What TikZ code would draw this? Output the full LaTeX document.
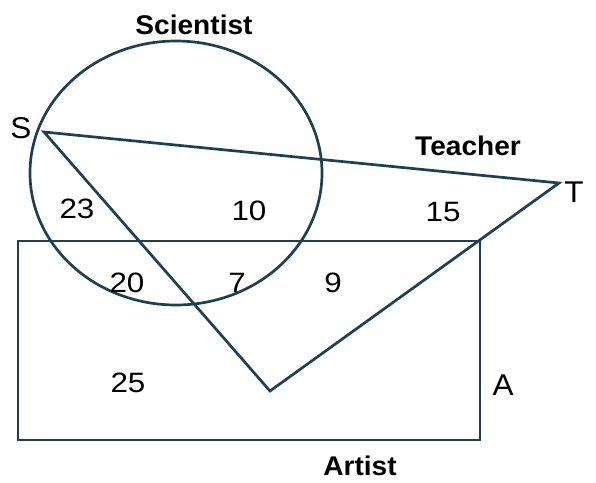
\documentclass[tikz,border=0pt]{standalone}
\usepackage{fontspec}
\setmainfont{Liberation Sans}
\definecolor{ln}{HTML}{1F4050}
\begin{document}
\begin{tikzpicture}[x=1pt,y=-1pt,
  shp/.style={draw=ln,line width=2.7pt,line join=miter},
  num/.style={font=\fontsize{28}{28}\selectfont,xscale=1.12,inner sep=0pt},
  let/.style={font=\fontsize{30}{30}\selectfont,xscale=1.05,inner sep=0pt},
  lab/.style={font=\bfseries\fontsize{27}{27}\selectfont,xscale=1.04,inner sep=0pt}]
\useasboundingbox (0,0) rectangle (596,482);
\coordinate (S) at (44,132);
\coordinate (T) at (559,183);
\coordinate (B) at (270,391);
\coordinate (R1) at (18,241);
\coordinate (R2) at (480,440);
\draw[shp] (176,173) ellipse [x radius=146, y radius=132];
\draw[shp] (R1) rectangle (R2);
\draw[shp] (S) -- (T) -- (B) -- cycle;
\node[lab] (sci) at (194,25) {Scientist};
\node[lab] (tea) at (468,146) {Teacher};
\node[lab] (art) at (360,466) {Artist};
\node[let] (s) at (21,128) {S};
\node[let] (t) at (574,192) {T};
\node[let] (a) at (503,385) {A};
\node[num] (n23) at (77,209) {23};
\node[num] (n10) at (249,211) {10};
\node[num] (n15) at (443,212) {15};
\node[num] (n20) at (127,283) {20};
\node[num] (n7) at (237,283) {7};
\node[num] (n9) at (333,283) {9};
\node[num] (n25) at (128,383) {25};
\end{tikzpicture}
\end{document}
